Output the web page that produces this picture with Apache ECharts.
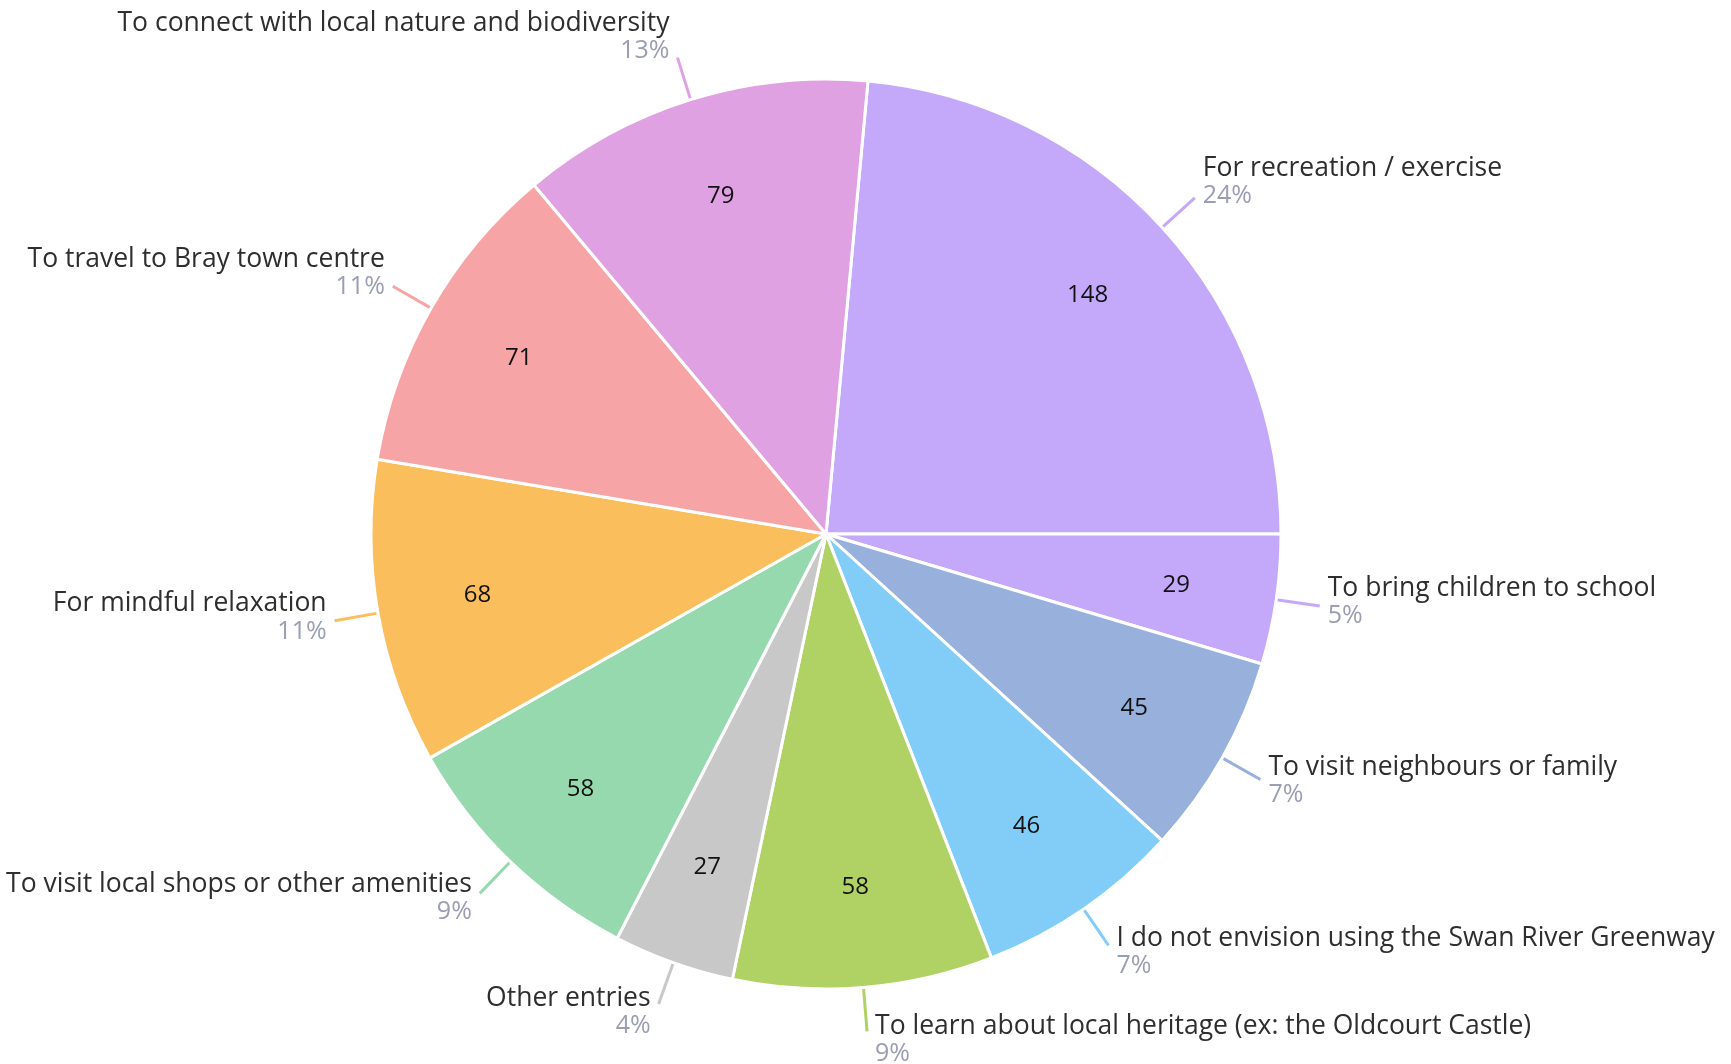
<!DOCTYPE html>
<html>
<head>
<meta charset="utf-8">
<script src="https://cdn.jsdelivr.net/npm/echarts@6/dist/echarts.min.js"></script>
<style>html,body{margin:0;padding:0;background:#fff;}#c{width:1731px;height:1064px;}</style>
</head>
<body>
<div id="c"></div>
<script>
const categories = [
  "For recreation / exercise",
  "To bring children to school",
  "To visit neighbours or family",
  "I do not envision using the Swan River Greenway",
  "To learn about local heritage (ex: the Oldcourt Castle)",
  "Other entries",
  "To visit local shops or other amenities",
  "For mindful relaxation",
  "To travel to Bray town centre",
  "To connect with local nature and biodiversity"
];
const values = [148, 29, 45, 46, 58, 27, 58, 68, 71, 79];
const colors = ["#c4a9fb", "#c4a9fb", "#98b1dc", "#82cdf7", "#b0d264", "#c8c8c8", "#97d9ae", "#fbbe5c", "#f6a4a6", "#dfa1e1"];

const total = values.reduce((a, b) => a + b, 0);
const startAngle = values[0] / total * 360;
const FONT = "Open Sans";

// vertical nudge of outside label blocks (labels sit further out vertically)
let acc = 0;
const data = categories.map((n, i) => {
  const mid = startAngle - (acc + values[i] / 2) / total * 360;
  acc += values[i];
  const s = Math.sin(mid * Math.PI / 180);
  const dy = -6 - 15 * s; // + down, - up
  const pad = dy < 0 ? [0, 0, -2 * dy, 0] : [2 * dy, 0, 0, 0];
  return {
    name: n, value: values[i],
    itemStyle: { color: colors[i] },
    label: { padding: pad },
    labelLine: { lineStyle: { color: colors[i] } }
  };
});

const chart = echarts.init(document.getElementById('c'), null, { renderer: 'canvas' });
chart.setOption({
  backgroundColor: '#fff',
  animation: false,
  series: [
    {
      type: 'pie',
      center: [826, 534],
      radius: [0, 455],
      startAngle: startAngle,
      clockwise: true,
      avoidLabelOverlap: false,
      data: data,
      itemStyle: { borderColor: '#fff', borderWidth: 3 },
      label: {
        show: true,
        position: 'outside',
        formatter: p => '{n|' + p.name + '}\n{p|' + Math.round(p.value / total * 100) + '%}',
        distanceToLabelLine: 8,
        rich: {
          n: { fontFamily: FONT, fontSize: 26.5, color: '#2e2e2e', lineHeight: 28 },
          p: { fontFamily: FONT, fontSize: 25, color: '#9b9db5', lineHeight: 27 }
        }
      },
      labelLine: { show: true, length: 44, length2: 0, lineStyle: { width: 3 } }
    },
    {
      type: 'pie',
      center: [826, 534],
      radius: [247, 455],
      startAngle: startAngle,
      clockwise: true,
      silent: true,
      data: categories.map((n, i) => ({ name: n, value: values[i] })),
      itemStyle: { color: 'rgba(0,0,0,0)' },
      label: {
        show: true,
        position: 'inside',
        formatter: '{c}',
        fontFamily: FONT,
        fontSize: 24,
        color: '#111'
      },
      labelLine: { show: false }
    }
  ]
});
</script>
</body>
</html>
